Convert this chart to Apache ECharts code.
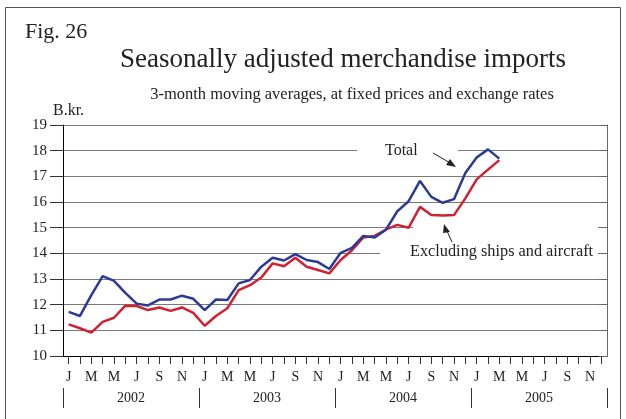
<!DOCTYPE html>
<html>
<head>
<meta charset="utf-8">
<script src="https://cdn.jsdelivr.net/npm/echarts@6/dist/echarts.min.js"></script>
<style>
  html, body { margin: 0; padding: 0; background: #fff; }
  #chart { width: 626px; height: 419px; }
</style>
</head>
<body>
<div id="chart"></div>
<script>
// months shown on the axis, one letter each
var monthLetters = ['J','F','M','A','M','J','J','A','S','O','N','D']
var years = ['2002','2003','2004','2005']
var yTicks = [10, 11, 12, 13, 14, 15, 16, 17, 18, 19]

// B.kr., Jan 2002 - Mar 2005
var total = [
  11.72, 11.56, 12.37, 13.11, 12.93, 12.46, 12.04, 11.97, 12.20, 12.20, 12.35, 12.23,
  11.79, 12.20, 12.18, 12.83, 12.96, 13.48, 13.83, 13.72, 13.97, 13.74, 13.66, 13.39,
  14.02, 14.21, 14.68, 14.62, 14.92, 15.64, 16.03, 16.82, 16.20, 15.97, 16.11, 17.13,
  17.73, 18.05, 17.69
]
var exShips = [
  11.23, 11.08, 10.91, 11.33, 11.49, 11.96, 11.95, 11.79, 11.89, 11.76, 11.89, 11.68,
  11.18, 11.56, 11.86, 12.57, 12.76, 13.06, 13.61, 13.50, 13.83, 13.48, 13.35, 13.22,
  13.74, 14.12, 14.62, 14.68, 14.93, 15.11, 15.00, 15.81, 15.49, 15.47, 15.49, 16.14,
  16.88, 17.26, 17.63
]

var categories = []
years.forEach(function (y) {
  monthLetters.forEach(function (m, i) { categories.push(y + '-' + (i + 1) + '-' + m) })
})

var serif = 'Liberation Serif, Times New Roman, serif'
var chart = echarts.init(document.getElementById('chart'))

chart.setOption({
  backgroundColor: '#fff',
  animation: false,
  grid: { left: 63, right: 19, top: 125, bottom: 63 },
  xAxis: [
    {
      type: 'category',
      data: categories,
      boundaryGap: true,
      axisLine: { show: true, lineStyle: { color: '#000', width: 1 } },
      axisTick: { show: true, interval: 0, alignWithLabel: true, length: 8, lineStyle: { color: '#333' } },
      axisLabel: {
        interval: 1,
        margin: 14,
        fontFamily: serif,
        fontSize: 14,
        color: '#222',
        formatter: function (v) { return v.charAt(v.length - 1) }
      }
    },
    {
      // year row under the months
      type: 'category',
      data: years,
      position: 'bottom',
      offset: 32,
      boundaryGap: true,
      axisLine: { show: false },
      axisTick: { show: true, interval: 0, length: 20, lineStyle: { color: '#333' } },
      axisLabel: { margin: 3, fontFamily: serif, fontSize: 14, color: '#222' }
    }
  ],
  yAxis: [
    {
      type: 'value',
      min: yTicks[0],
      max: yTicks[yTicks.length - 1],
      interval: 1,
      axisLine: { show: true, lineStyle: { color: '#000' } },
      axisTick: { show: true, length: 13, lineStyle: { color: '#333' } },
      axisLabel: { margin: 16, fontFamily: serif, fontSize: 15, color: '#222' },
      splitLine: { lineStyle: { color: '#7a7a7a', width: 1 } }
    },
    {
      type: 'value',
      position: 'right',
      min: yTicks[0],
      max: yTicks[yTicks.length - 1],
      interval: 1,
      axisLine: { show: true, lineStyle: { color: '#666' } },
      axisTick: { show: true, inside: true, length: 8, lineStyle: { color: '#666' } },
      axisLabel: { show: false },
      splitLine: { show: false }
    }
  ],
  series: [
    {
      name: 'Total',
      type: 'line',
      data: total,
      showSymbol: false,
      z: 4,
      lineStyle: { color: '#2b3a97', width: 2.5 }
    },
    {
      name: 'Excluding ships and aircraft',
      type: 'line',
      data: exShips,
      showSymbol: false,
      z: 3,
      lineStyle: { color: '#d1202f', width: 2.5 }
    }
  ],
  graphic: [
    // outer frame
    { type: 'rect', shape: { x: 5.5, y: 7.5, width: 615, height: 430 }, style: { fill: 'none', stroke: '#555', lineWidth: 1 }, z: 0 },
    { type: 'text', left: 25, top: 21, style: { text: 'Fig. 26', font: '22px ' + serif, fill: '#222' } },
    { type: 'text', x: 343, y: 60, style: { text: 'Seasonally adjusted merchandise imports', font: '27px ' + serif, fill: '#222', align: 'center', verticalAlign: 'middle' } },
    { type: 'text', x: 352, y: 95, style: { text: '3-month moving averages, at fixed prices and exchange rates', font: '16.5px ' + serif, fill: '#222', align: 'center', verticalAlign: 'middle' } },
    { type: 'text', x: 53, y: 111, style: { text: 'B.kr.', font: '16px ' + serif, fill: '#222', verticalAlign: 'middle' } },

    // white patches hiding grid lines behind the notes
    { type: 'rect', shape: { x: 357, y: 142, width: 101, height: 18 }, style: { fill: '#fff' }, z: 1 },
    { type: 'rect', shape: { x: 413, y: 221, width: 185, height: 20 }, style: { fill: '#fff' }, z: 1 },
    { type: 'rect', shape: { x: 380, y: 241, width: 218, height: 22 }, style: { fill: '#fff' }, z: 1 },

    { type: 'text', x: 385, y: 151, z: 5, style: { text: 'Total', font: '16px ' + serif, fill: '#222', verticalAlign: 'middle' } },
    { type: 'line', z: 5, shape: { x1: 433, y1: 153, x2: 452, y2: 164 }, style: { stroke: '#222', lineWidth: 1 } },
    { type: 'polygon', z: 5, shape: { points: [[456, 167], [446, 165], [450, 159]] }, style: { fill: '#222' } },

    { type: 'text', x: 410, y: 252, z: 5, style: { text: 'Excluding ships and aircraft', font: '16.3px ' + serif, fill: '#222', verticalAlign: 'middle' } },
    { type: 'line', z: 5, shape: { x1: 452, y1: 242, x2: 446, y2: 229 }, style: { stroke: '#222', lineWidth: 1 } },
    { type: 'polygon', z: 5, shape: { points: [[444, 224], [450, 232], [443, 233]] }, style: { fill: '#222' } }
  ]
})
</script>
</body>
</html>
